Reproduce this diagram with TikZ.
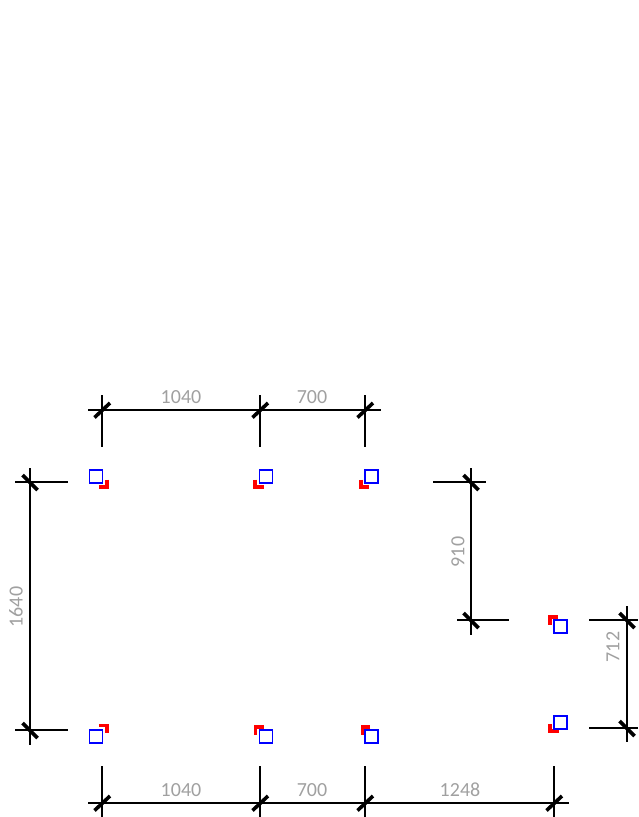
\documentclass[tikz,border=0pt]{standalone}
\usepackage{fontspec}
\setmainfont{Carlito}
\definecolor{dimgray}{HTML}{A0A0A0}
\definecolor{pileblue}{HTML}{0000FF}
\begin{document}
\begin{tikzpicture}[x=1pt,y=-1pt,line cap=butt,line join=miter,
dimline/.style={line width=1.5pt,black},
tick/.style={line width=3.6pt,black,line cap=butt},
dimtext/.style={text=dimgray,font=\fontsize{20}{22}\selectfont,inner sep=0pt},
pile/.style={draw=pileblue,line width=1.6pt,fill=white,minimum size=13pt,inner sep=0pt},
corner/.style={draw=red,line width=3.6pt}]
\useasboundingbox (0,0) rectangle (638,817);

% top dimension
\draw[dimline] (88,410)--(381,410);
\foreach \x in {102,260,365}
\draw[dimline] (\x,395)--(\x,447);
\foreach \x in {102,260,365}
\draw[tick] (\x-7.5,417.5)--(\x+8,403);
\node[dimtext] (top1) at (181,397) {1040};
\node[dimtext] (top2) at (312,397) {700};

% bottom dimension
\draw[dimline] (88,803)--(569,803);
\foreach \x in {102,260,365,554}
\draw[dimline] (\x,766)--(\x,817);
\draw[dimline] (245,803)--(275,803);
\draw[dimline] (351,803)--(381,803);
\draw[line width=2.2pt] (365,766)--(365,817);
\foreach \x in {102,260,365,554}
\draw[tick] (\x-7.5,810.5)--(\x+8,796);
\node[dimtext] (bot1) at (181,790) {1040};
\node[dimtext] (bot2) at (312,790) {700};
\node[dimtext] (bot3) at (460,790) {1248};

% left dimension
\draw[dimline] (30,468)--(30,745);
\draw[dimline] (15,482)--(68,482);
\draw[dimline] (15,730)--(68,730);
\foreach \y in {482,730}
\draw[tick] (22.5,\y-7)--(37.5,\y+8);
\node[dimtext,rotate=90] (left1) at (16,607) {1640};

% middle dimension
\draw[dimline] (471,468)--(471,635);
\draw[dimline] (433,482)--(486,482);
\draw[dimline] (457,620)--(509,620);
\foreach \y in {482,620}
\draw[tick] (463.5,\y-7)--(478.5,\y+8);
\node[dimtext,rotate=90] (mid1) at (458,552) {910};

% right dimension
\draw[dimline] (627,606)--(627,742);
\draw[dimline] (589,620)--(638,620);
\draw[dimline] (589,728)--(638,728);
\foreach \y in {620,728}
\draw[tick] (619.5,\y-7)--(634.5,\y+8);
\node[dimtext,rotate=90] (right1) at (613,647) {712};

% red corners
\draw[corner] (107,479.5)--(107,487)--(99,487);
\draw[corner] (255,479.5)--(255,487)--(264,487);
\draw[corner] (361,479.5)--(361,487)--(369,487);
\draw[corner] (99,725.5)--(107,725.5)--(107,733);
\draw[corner] (264,727)--(255.5,727)--(255.5,735);
\draw[corner] (370,727)--(362.5,727)--(362.5,735);
\draw[corner] (557.5,617)--(550,617)--(550,625);
\draw[corner] (550,724)--(550,731)--(559,731);

% blue squares
\foreach \n/\x/\y in {a/96/476.5,b/266/476.5,c/371.5/476.5,d/96/736.5,e/266/736.5,f/371.5/736.5,g/560.5/626.5,h/560.5/722.5}
\node[pile] (\n) at (\x,\y) {};
\end{tikzpicture}
\end{document}
